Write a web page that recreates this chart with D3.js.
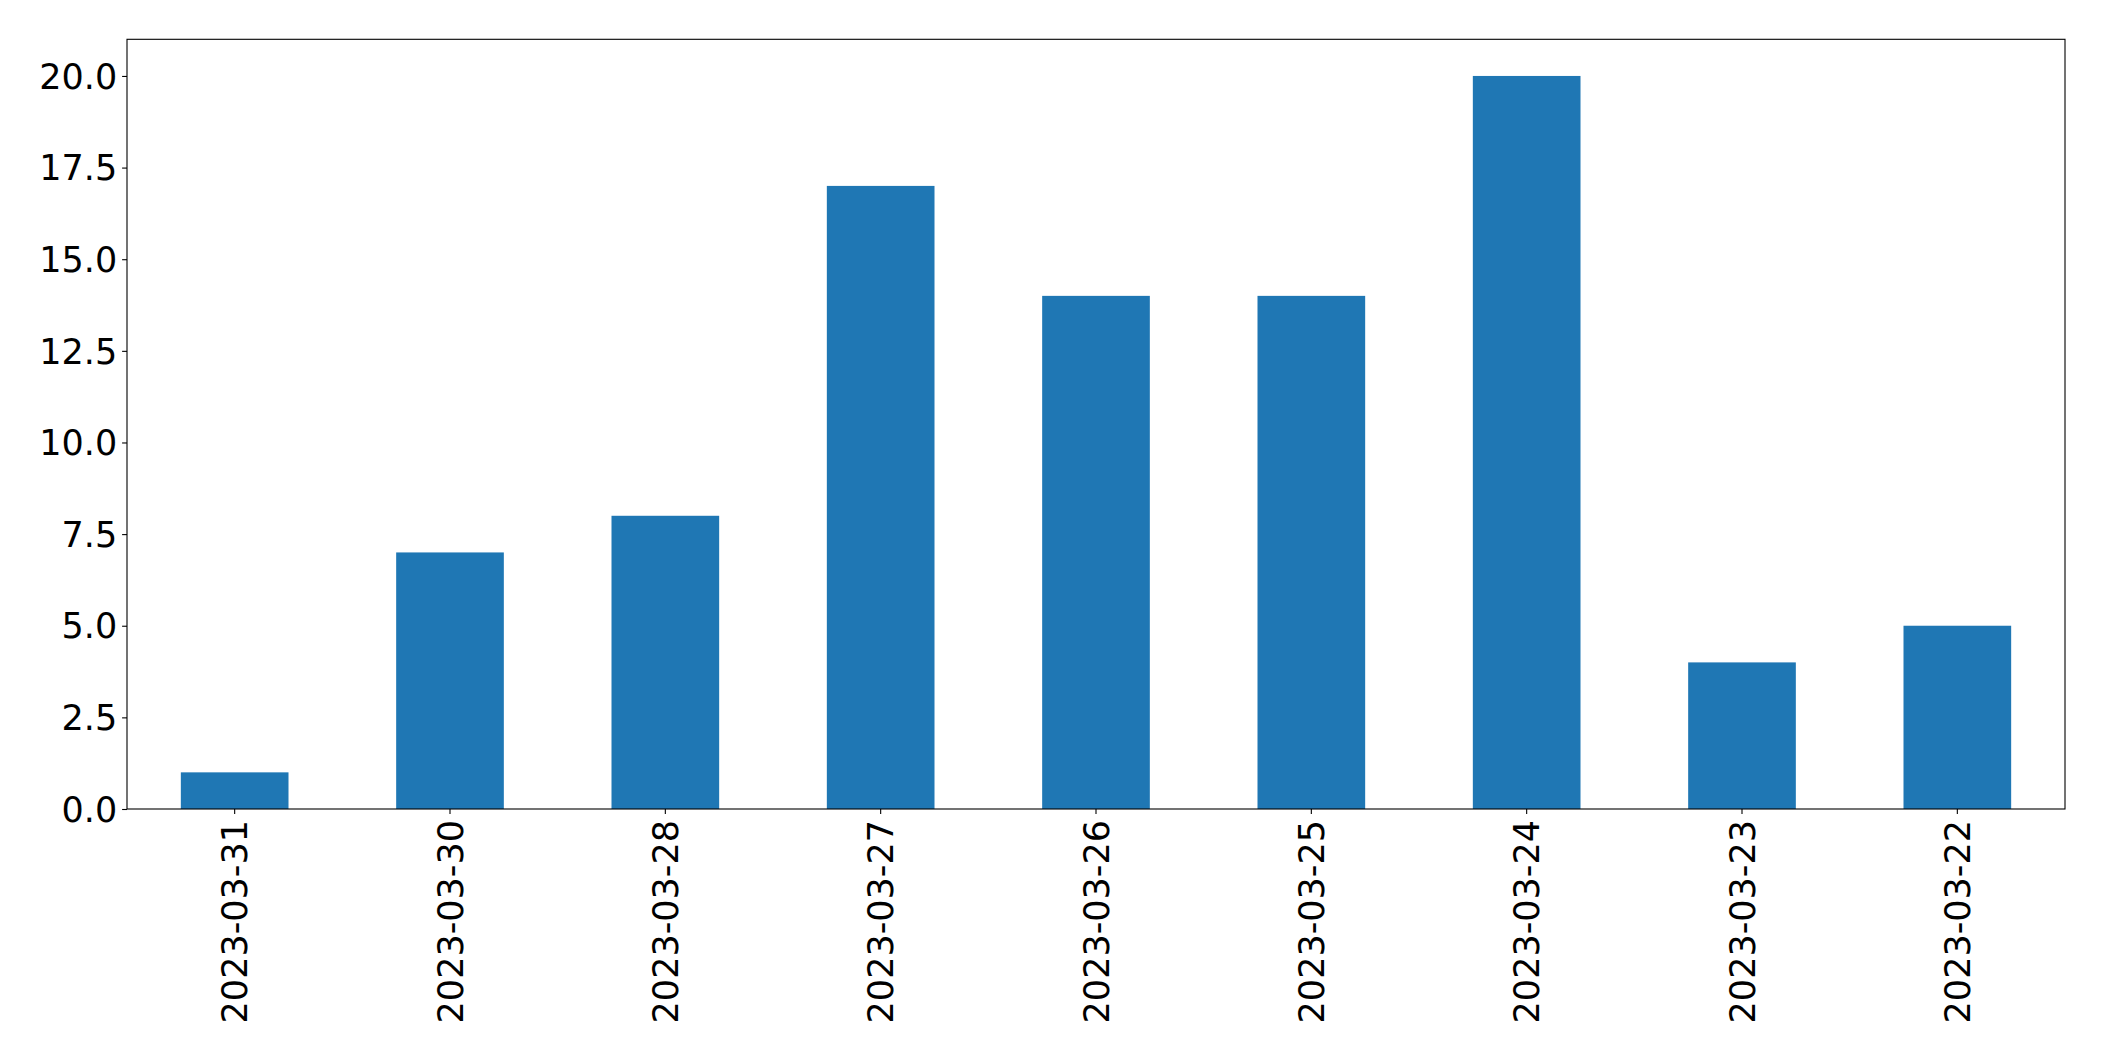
<!DOCTYPE html>
<html><head><meta charset="utf-8">
<script src="https://cdn.jsdelivr.net/npm/d3@7"></script>
<style>html,body{margin:0;padding:0;background:#fff;}svg{display:block;}</style>
</head><body>
<script>
const categories = ["2023-03-31","2023-03-30","2023-03-28","2023-03-27","2023-03-26","2023-03-25","2023-03-24","2023-03-23","2023-03-22"];
const values = [1, 7, 8, 17, 14, 14, 20, 4, 5];
const yTicks = [0, 2.5, 5, 7.5, 10, 12.5, 15, 17.5, 20];

const W = 2104, H = 1061;
const m = {left:127, right:2065, top:39.3, bottom:809};
const svg = d3.select("body").append("svg").attr("width", W).attr("height", H);
const font = "DejaVu Sans";

const x = d3.scaleBand().domain(categories).range([m.left, m.right]).paddingInner(0.5).paddingOuter(0.25);
const y = d3.scaleLinear().domain([0, 21]).range([m.bottom, m.top]);

svg.append("g").selectAll("rect").data(values).join("rect")
  .attr("x", (d,i) => x(categories[i]))
  .attr("width", x.bandwidth())
  .attr("y", d => y(d))
  .attr("height", d => y(0) - y(d))
  .attr("fill", "#1f77b4");

const yAxis = svg.append("g").attr("transform", `translate(${m.left},0)`)
  .call(d3.axisLeft(y).tickValues(yTicks).tickFormat(d3.format(".1f")).tickSize(4.9).tickPadding(4.9));
const xAxis = svg.append("g").attr("transform", `translate(0,${m.bottom})`)
  .call(d3.axisBottom(x).tickSize(4.9).tickPadding(4.9));

[yAxis, xAxis].forEach(g => {
  g.select(".domain").remove();
  g.selectAll(".tick line").attr("stroke", "#000").attr("stroke-width", 1.1);
  g.selectAll(".tick text").attr("fill", "#000").attr("font-family", font).attr("font-size", 35);
});
yAxis.selectAll(".tick text").attr("dy", "0.35em");
xAxis.selectAll(".tick text")
  .attr("text-anchor", "end")
  .attr("transform", "rotate(-90)")
  .attr("x", -11)
  .attr("y", 0)
  .attr("dy", "0.36em");

svg.append("rect").attr("x", m.left).attr("y", m.top)
  .attr("width", m.right - m.left).attr("height", m.bottom - m.top)
  .attr("fill", "none").attr("stroke", "#000").attr("stroke-width", 1.1);
</script>
</body></html>
